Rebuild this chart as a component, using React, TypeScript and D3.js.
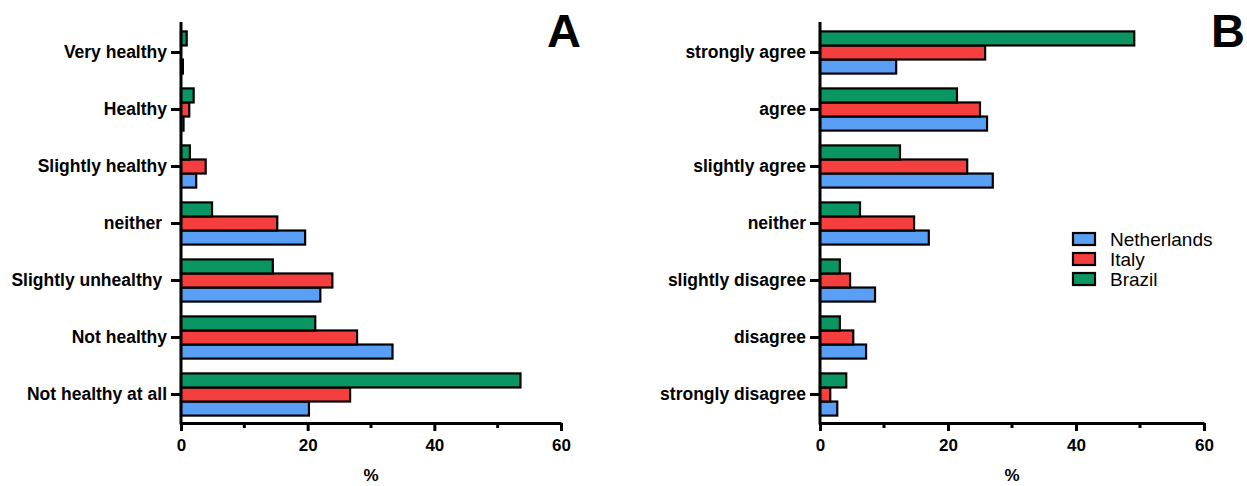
import React, { useRef, useEffect } from "react";
import * as d3 from "d3";

const series = ["Netherlands", "Italy", "Brazil"];
const colors = ["#599ff5", "#f53f3f", "#0a9662"];

const healthCats = [
  "Very healthy",
  "Healthy",
  "Slightly healthy",
  "neither ",
  "Slightly unhealthy ",
  "Not healthy",
  "Not healthy at all",
];
const healthNL = [0.3, 0.4, 2.4, 19.6, 22.0, 33.4, 20.2];
const healthIT = [0, 1.3, 3.9, 15.2, 23.9, 27.8, 26.7];
const healthBR = [0.9, 2.0, 1.4, 4.9, 14.5, 21.2, 53.6];

const agreeCats = [
  "strongly agree",
  "agree",
  "slightly agree",
  "neither",
  "slightly disagree",
  "disagree",
  "strongly disagree",
];
const agreeNL = [11.9, 26.1, 27.0, 17.0, 8.6, 7.2, 2.7];
const agreeIT = [25.8, 25.0, 23.0, 14.7, 4.7, 5.2, 1.6];
const agreeBR = [49.1, 21.4, 12.5, 6.25, 3.1, 3.1, 4.1];

const majorTicks = [0, 20, 40, 60];
const minorTicks = [10, 30, 50];

const font = "'Liberation Sans', Arial, sans-serif";

export default function App() {
  const ref = useRef<SVGSVGElement>(null);
  const width = 1247;
  const height = 486;
  const axisTop = 22;
  const top = 24;
  const bottom = 423;

  useEffect(() => {
    const svg = d3.select(ref.current);
    svg.selectAll("*").remove();

    const panels = [
      { cats: healthCats, vals: [healthNL, healthIT, healthBR], x0: 181, x1: 561, letter: "A", lx: 564 },
      { cats: agreeCats, vals: [agreeNL, agreeIT, agreeBR], x0: 820, x1: 1204, letter: "B", lx: 1228 },
    ];

    panels.forEach((p) => {
      const g = svg.append("g");
      const x = d3.scaleLinear().domain([0, 60]).range([p.x0, p.x1]);
      const y = d3
        .scaleBand<string>()
        .domain(p.cats)
        .range([top, bottom])
        .paddingInner(0.26)
        .paddingOuter(0.13);
      // green on top, blue at bottom
      const inner = d3
        .scaleBand<string>()
        .domain([...series].reverse())
        .range([0, y.bandwidth()]);

      const rows = p.cats.flatMap((c, i) =>
        series.map((s, j) => ({ c, s, j, v: p.vals[j][i] }))
      );

      g.selectAll("rect.bar")
        .data(rows)
        .join("rect")
        .attr("class", "bar")
        .attr("x", x(0))
        .attr("y", (d) => (y(d.c) as number) + (inner(d.s) as number))
        .attr("width", (d) => x(d.v) - x(0))
        .attr("height", inner.bandwidth())
        .attr("fill", (d) => colors[d.j])
        .attr("stroke", "#000")
        .attr("stroke-width", 2.2);

      // x axis
      const xa = g
        .append("g")
        .attr("transform", `translate(0,${bottom})`)
        .call(
          d3
            .axisBottom(x)
            .tickValues(majorTicks)
            .tickSize(8)
            .tickSizeOuter(0)
            .tickFormat(d3.format("d"))
        );
      xa.select(".domain").attr("stroke-width", 3);
      xa.selectAll(".tick line").attr("stroke-width", 3);
      xa.selectAll(".tick text")
        .attr("dy", "0.71em")
        .attr("y", 16)
        .style("font-family", font)
        .style("font-weight", "bold")
        .style("font-size", "17px")
        .attr("fill", "#000");

      g.append("g")
        .selectAll("line")
        .data(minorTicks)
        .join("line")
        .attr("x1", (d) => x(d))
        .attr("x2", (d) => x(d))
        .attr("y1", bottom)
        .attr("y2", bottom + 5)
        .attr("stroke", "#000")
        .attr("stroke-width", 3);

      // y axis
      const ya = g
        .append("g")
        .attr("transform", `translate(${p.x0},0)`)
        .call(d3.axisLeft(y).tickSize(10).tickSizeOuter(0));
      ya.select(".domain").attr("stroke-width", 3).attr("d", `M0,${axisTop}V${bottom + 1.5}`);
      ya.selectAll(".tick line").attr("stroke-width", 3);
      ya.selectAll(".tick text")
        .attr("x", -14)
        .style("white-space", "pre")
        .style("font-family", font)
        .style("font-weight", "bold")
        .style("font-size", "17.5px")
        .attr("fill", "#000");

      g.append("text")
        .attr("x", (p.x0 + p.x1) / 2)
        .attr("y", 481)
        .attr("text-anchor", "middle")
        .style("font-family", font)
        .style("font-weight", "bold")
        .style("font-size", "17px")
        .text("%");

      g.append("text")
        .attr("x", p.lx)
        .attr("y", 47)
        .attr("text-anchor", "middle")
        .style("font-family", font)
        .style("font-weight", "bold")
        .style("font-size", "47px")
        .text(p.letter);
    });

    // legend
    const lg = svg.append("g").attr("transform", "translate(1073,233)");
    series.forEach((s, i) => {
      lg.append("rect")
        .attr("x", 0)
        .attr("y", i * 20)
        .attr("width", 22)
        .attr("height", 12)
        .attr("fill", colors[i])
        .attr("stroke", "#000")
        .attr("stroke-width", 2.2);
      lg.append("text")
        .attr("x", 37)
        .attr("y", i * 20 + 13)
        .style("font-family", font)
        .style("font-size", "19px")
        .text(s);
    });
  }, []);

  return (
    <svg
      ref={ref}
      width={width}
      height={height}
      style={{ position: "absolute", left: 0, top: 0, background: "#fff" }}
    ></svg>
  );
}
